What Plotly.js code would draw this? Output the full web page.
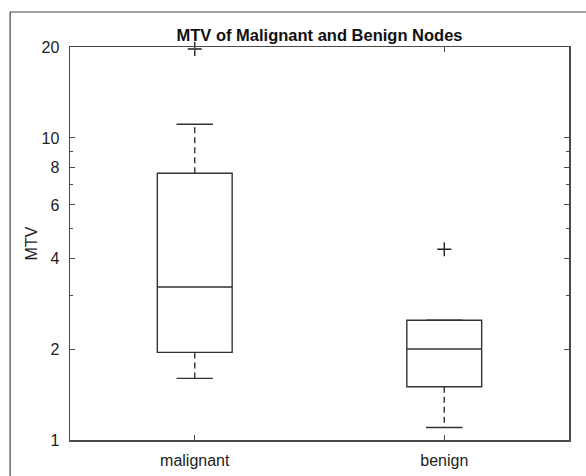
<!DOCTYPE html>
<html>
<head>
<meta charset="utf-8">
<script src="https://cdn.plot.ly/plotly-3.0.1.min.js"></script>
<style>html,body{margin:0;padding:0;background:#fff;}#chart{width:586px;height:476px;}</style>
</head>
<body>
<div id="chart"></div>
<script>
// Data
const categories = ['malignant', 'benign'];
const q1Values = [1.95, 1.50];
const medianValues = [3.21, 2.00];
const q3Values = [7.64, 2.49];
const lowerWhiskers = [1.60, 1.10];
const upperWhiskers = [11.1, 2.49];
const outlierValues = [[19.7], [4.28]];
const yTickVals = [1, 2, 4, 6, 8, 10, 20];
const yMinorTicks = [3, 5, 7, 9];

const positions = categories.map((c, i) => i + 1);
const boxWidth = 0.3;
const capHalf = 0.073;
const lineColor = '#333333';
const axisColor = '#4a4a4a';

const traces = [];

// Boxes (box + median), whiskers drawn separately as dashed lines
traces.push({
  type: 'box',
  x: positions,
  q1: q1Values,
  median: medianValues,
  q3: q3Values,
  lowerfence: q1Values,
  upperfence: q3Values,
  width: boxWidth,
  whiskerwidth: 0,
  fillcolor: 'rgba(255,255,255,1)',
  line: {color: lineColor, width: 1.4},
  hoverinfo: 'skip',
  showlegend: false
});

// Dashed whiskers
const wx = [], wy = [];
positions.forEach((p, i) => {
  wx.push(p, p, null, p, p, null);
  wy.push(q3Values[i], upperWhiskers[i], null, q1Values[i], lowerWhiskers[i], null);
});
traces.push({
  type: 'scatter', mode: 'lines', x: wx, y: wy,
  line: {color: lineColor, width: 1.4, dash: '6px,4px'},
  hoverinfo: 'skip', showlegend: false
});

// Whisker caps
const cx = [], cy = [];
positions.forEach((p, i) => {
  cx.push(p - capHalf, p + capHalf, null, p - capHalf, p + capHalf, null);
  cy.push(upperWhiskers[i], upperWhiskers[i], null, lowerWhiskers[i], lowerWhiskers[i], null);
});
traces.push({
  type: 'scatter', mode: 'lines', x: cx, y: cy,
  line: {color: lineColor, width: 1.4},
  hoverinfo: 'skip', showlegend: false
});

// Outliers
const ox = [], oy = [];
positions.forEach((p, i) => {
  outlierValues[i].forEach(v => { ox.push(p); oy.push(v); });
});
traces.push({
  type: 'scatter', mode: 'markers', x: ox, y: oy,
  marker: {symbol: 'cross-thin-open', size: 10, color: '#222', line: {color: '#222', width: 1.4}},
  cliponaxis: false,
  hoverinfo: 'skip', showlegend: false
});

const font = {family: 'Liberation Sans, Arial, sans-serif', size: 16, color: '#222'};

const layout = {
  width: 586,
  height: 476,
  autosize: false,
  margin: {l: 70, r: 17, t: 47, b: 36, pad: 0},
  paper_bgcolor: '#fff',
  plot_bgcolor: '#fff',
  font: font,
  title: {
    text: '<b>MTV of Malignant and Benign Nodes</b>',
    font: {family: 'Liberation Sans, Arial, sans-serif', size: 16.5, color: '#111'},
    x: 0.5, xref: 'paper', xanchor: 'center',
    y: 1, yref: 'paper', yanchor: 'bottom', pad: {b: 6}
  },
  xaxis: {
    range: [0.5, 2.5],
    tickmode: 'array',
    tickvals: positions,
    ticktext: categories,
    ticks: 'inside',
    ticklen: 5,
    tickcolor: axisColor,
    tickwidth: 1,
    showline: true,
    linecolor: axisColor,
    linewidth: 1.5,
    mirror: 'ticks',
    showgrid: false,
    zeroline: false,
    ticklabelstandoff: 5,
    tickfont: font
  },
  yaxis: {
    type: 'log',
    range: [0, Math.log10(20)],
    tickmode: 'array',
    tickvals: yTickVals,
    ticktext: yTickVals.map(String),
    ticks: 'inside',
    ticklen: 5,
    tickcolor: axisColor,
    tickwidth: 1,
    minor: {tickmode: 'array', tickvals: yMinorTicks, ticks: 'inside', ticklen: 3, tickcolor: axisColor, showgrid: false},
    showline: true,
    linecolor: axisColor,
    linewidth: 1.5,
    mirror: 'ticks',
    showgrid: false,
    zeroline: false,
    ticklabelstandoff: 6,
    tickfont: font,
    title: {text: 'MTV', font: font, standoff: 0}
  },
  shapes: [{
    type: 'rect', xref: 'paper', yref: 'paper',
    x0: -0.12, x1: 1.2, y0: -0.3, y1: 1.089,
    line: {color: '#444', width: 1.2},
    fillcolor: 'rgba(0,0,0,0)',
    layer: 'below'
  }]
};

Plotly.newPlot('chart', traces, layout, {displayModeBar: false, staticPlot: true});
</script>
</body>
</html>
